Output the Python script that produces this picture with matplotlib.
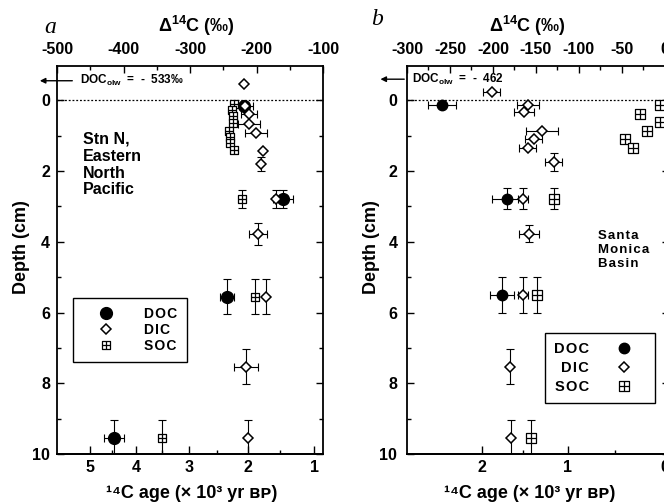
import numpy as np
import matplotlib
matplotlib.use("Agg")
import matplotlib.pyplot as plt
from matplotlib.path import Path
from matplotlib.lines import Line2D
from matplotlib.ticker import MultipleLocator, FixedLocator

plt.rcParams['font.family'] = ['Liberation Sans', 'DejaVu Sans']
plt.rcParams['font.weight'] = 'bold'
plt.rcParams['axes.unicode_minus'] = False
plt.rcParams['mathtext.fontset'] = 'custom'
plt.rcParams['mathtext.rm'] = 'Liberation Sans:bold'
plt.rcParams['mathtext.it'] = 'Liberation Sans:bold'
plt.rcParams['mathtext.bf'] = 'Liberation Sans:bold'
plt.rcParams['mathtext.default'] = 'rm'

# ---- panel a : Stn N, Eastern North Pacific (delta14C permil, depth cm)
a_doc_d = [-218.8, -160.2, -244.4, -414.3]
a_doc_z = [0.15, 2.8, 5.55, 9.55]
a_doc_xe = [13, 15, 11, 15]
a_doc_ze = [0, 0.25, 0.5, 0.5]

a_dic_d = [-218.8, -217.3, -211.3, -211.3, -200.8, -190.2, -193.2, -170.7, -197.7, -185.7, -215.8, -212.8]
a_dic_z = [-0.45, 0.15, 0.4, 0.66, 0.92, 1.44, 1.81, 2.8, 3.78, 5.55, 7.53, 9.55]
a_dic_xe = [0, 0, 12, 16, 16, 0, 0, 0, 13, 0, 18, 0]
a_dic_ze = [0, 0, 0, 0, 0, 0, 0.2, 0.25, 0.3, 0.5, 0.5, 0.5]

a_soc_d = [-233.8, -236.8, -235.3, -235.3, -241.4, -239.8, -239.8, -233.8, -221.8, -202.3, -342.1]
a_soc_z = [0.1, 0.28, 0.45, 0.65, 0.88, 1.05, 1.22, 1.4, 2.8, 5.55, 9.55]
a_soc_xe = [0] * 11
a_soc_ze = [0, 0, 0, 0, 0, 0, 0, 0, 0.25, 0.5, 0.5]

# ---- panel b : Santa Monica Basin
b_doc_d = [-259.3, -183.7, -189.5]
b_doc_z = [0.12, 2.78, 5.5]
b_doc_xe = [16, 17, 14]
b_doc_ze = [0, 0.3, 0.5]

b_dic_d = [-201.2, -159.3, -164.0, -143.0, -152.3, -159.3, -129.0, -165.1, -158.1, -165.1, -180.2, -179.1]
b_dic_z = [-0.23, 0.12, 0.34, 0.88, 1.1, 1.36, 1.75, 2.78, 3.77, 5.5, 7.53, 9.55]
b_dic_xe = [10, 13, 12, 19, 10, 10, 10, 6, 12, 6, 0, 0]
b_dic_ze = [0, 0, 0, 0, 0, 0, 0.25, 0.3, 0.25, 0.5, 0.5, 0.5]

b_soc_d = [-5.8, -29.0, -5.8, -21.0, -46.5, -37.2, -129.0, -148.8, -155.8]
b_soc_z = [0.14, 0.38, 0.62, 0.88, 1.1, 1.36, 2.78, 5.5, 9.55]
b_soc_xe = [0] * 9
b_soc_ze = [0, 0, 0, 0, 0, 0, 0.3, 0.5, 0.5]

TAU = 8.35  # kyr, delta -> age conversion


def d2age(d):
    d = np.clip(np.asarray(d, dtype=float), -990, 990)
    return -TAU * np.log(1 + d / 1000.0)


def age2d(a):
    return 1000.0 * (np.exp(-np.asarray(a, dtype=float) / TAU) - 1)


# square-with-cross marker for SOC
_v = [(-1, -1), (1, -1), (1, 1), (-1, 1), (-1, -1), (0, -1), (0, 1), (-1, 0), (1, 0)]
_c = [Path.MOVETO, Path.LINETO, Path.LINETO, Path.LINETO, Path.CLOSEPOLY,
      Path.MOVETO, Path.LINETO, Path.MOVETO, Path.LINETO]
boxplus = Path(_v, _c)

W, H = 664, 504
fig = plt.figure(figsize=(W / 100, H / 100), dpi=100)


def px_axes(l, t, r, b):
    return fig.add_axes([l / W, 1 - b / H, (r - l) / W, (b - t) / H])


def draw_series(ax, d, z, xe, ze, style, ms, zo):
    d, z, xe, ze = map(np.asarray, (d, z, xe, ze))
    m = xe > 0
    if m.any():
        ax.errorbar(d[m], z[m], xerr=xe[m], fmt='none', ecolor='k', elinewidth=0.8,
                    capsize=2.6, capthick=0.8, zorder=1)
    m = ze > 0
    if m.any():
        ax.errorbar(d[m], z[m], yerr=ze[m], fmt='none', ecolor='k', elinewidth=0.8,
                    capsize=2.8, capthick=0.8, zorder=1)
    ax.plot(d, z, ls='none', ms=ms, zorder=zo, **style)


doc_style = dict(marker='o', mfc='k', mec='k', mew=1.0)
dic_style = dict(marker='D', mfc='white', mec='k', mew=1.1)
soc_style = dict(marker=boxplus, mfc='white', mec='k', mew=0.9)


def setup(ax, xlim, major, minor, ages, age_minor, pad_y):
    ax.set_xlim(*xlim)
    ax.set_ylim(10, -0.97)
    ax.set_xticks(major)
    ax.xaxis.set_minor_locator(MultipleLocator(minor))
    ax.set_yticks(range(0, 11, 2))
    ax.yaxis.set_minor_locator(MultipleLocator(1))
    ax.tick_params(axis='x', which='both', bottom=False, top=True,
                   labelbottom=False, labeltop=True, direction='in')
    ax.tick_params(axis='x', which='major', pad=6.5, labelsize=11.5, length=5, width=1)
    ax.tick_params(axis='x', which='minor', length=3, width=1)
    ax.tick_params(axis='y', which='both', left=True, right=True, direction='in')
    ax.tick_params(axis='y', which='major', pad=pad_y, labelsize=11.5, length=5, width=1)
    ax.tick_params(axis='y', which='minor', length=3, width=1)
    for s in ax.spines.values():
        s.set_linewidth(1.3)
    ax.axhline(0, color='k', lw=0.9, ls=(0, (1.5, 1.5)), zorder=0)
    sec = ax.secondary_xaxis('bottom', functions=(d2age, age2d))
    sec.set_xticks(ages)
    sec.xaxis.set_minor_locator(FixedLocator(age_minor))
    sec.tick_params(which='both', direction='in', width=1)
    sec.tick_params(which='major', length=6, pad=4, labelsize=11.5)
    sec.tick_params(which='minor', length=3)
    sec.spines['bottom'].set_linewidth(1.3)


def spaced(s):
    return '\u200a'.join(s)


# ---------------- panel a
ax1 = px_axes(57, 66, 323, 454)
setup(ax1, (-500, -100), [-500, -400, -300, -200, -100], 50,
      [5, 4, 3, 2, 1], [4.5, 3.5, 2.5, 1.5], 5)
draw_series(ax1, a_soc_d, a_soc_z, a_soc_xe, a_soc_ze, soc_style, 6.0, 2)
draw_series(ax1, a_doc_d, a_doc_z, a_doc_xe, a_doc_ze, doc_style, 8.5, 3)
draw_series(ax1, a_dic_d, a_dic_z, a_dic_xe, a_dic_ze, dic_style, 4.6, 4)

ax1.annotate('', xy=(-0.075, 0.962), xytext=(0.068, 0.962), xycoords='axes fraction',
             arrowprops=dict(arrowstyle='-|>', color='k', lw=1, mutation_scale=8),
             annotation_clip=False)
ax1.text(0.085, 0.962, r'DOC$_{\mathrm{olw}}$  =  -  533‰', transform=ax1.transAxes,
         fontsize=8.5, va='center', ha='left')
ax1.text(0.098, 0.83, 'Stn N,\nEastern\nNorth\nPacific', transform=ax1.transAxes,
         fontsize=11.5, va='top', ha='left', linespacing=1.15)

hdl = [Line2D([], [], ls='none', ms=8.5, **doc_style),
       Line2D([], [], ls='none', ms=4.6, **dic_style),
       Line2D([], [], ls='none', ms=6.0, **soc_style)]
leg = ax1.legend(hdl, [spaced('DOC'), spaced('DIC'), spaced('SOC')], loc='upper left',
                 bbox_to_anchor=(0.06, 0.402),
                 borderaxespad=0, fontsize=10, handlelength=3.4, handletextpad=1.1,
                 labelspacing=0.15, borderpad=0.65, fancybox=False, framealpha=1,
                 edgecolor='k')
leg.get_frame().set_linewidth(1.0)

# ---------------- panel b
ax2 = px_axes(407, 66, 669, 454)
setup(ax2, (-300, 5), [-300, -250, -200, -150, -100, -50, 0], 25,
      [2, 1, 0], [1.5, 0.5], 7)
draw_series(ax2, b_soc_d, b_soc_z, b_soc_xe, b_soc_ze, soc_style, 7.0, 2)
draw_series(ax2, b_doc_d, b_doc_z, b_doc_xe, b_doc_ze, doc_style, 7.5, 3)
draw_series(ax2, b_dic_d, b_dic_z, b_dic_xe, b_dic_ze, dic_style, 4.8, 4)

ax2.annotate('', xy=(-0.112, 0.966), xytext=(0.0, 0.966), xycoords='axes fraction',
             arrowprops=dict(arrowstyle='-|>', color='k', lw=1, mutation_scale=8),
             annotation_clip=False)
ax2.text(0.02, 0.966, r'DOC$_{\mathrm{olw}}$  =  -  462', transform=ax2.transAxes,
         fontsize=8.5, va='center', ha='left')
ax2.text(0.73, 0.577, '\n'.join(spaced(w) for w in ['Santa', 'Monica', 'Basin']),
         transform=ax2.transAxes, fontsize=9.5, va='top', ha='left', linespacing=1.2)

hdl2 = [Line2D([], [], ls='none', ms=7.5, **doc_style),
        Line2D([], [], ls='none', ms=4.8, **dic_style),
        Line2D([], [], ls='none', ms=7.0, **soc_style)]
leg2 = ax2.legend(hdl2, [spaced('DOC'), spaced('DIC'), spaced('SOC')], loc='upper left',
                  bbox_to_anchor=(0.527, 0.312),
                  borderaxespad=0, fontsize=10.5, handlelength=3.0, handletextpad=0.9,
                  labelspacing=0.35, borderpad=0.6, fancybox=False, framealpha=1,
                  edgecolor='k', markerfirst=False)
leg2.get_frame().set_linewidth(1.0)

# ---------------- labels
def ftext(x, y, s, **kw):
    fig.text(x / W, 1 - y / H, s, **kw)


ftext(50, 33, 'a', family='Liberation Serif', style='italic', weight='normal',
      fontsize=17, ha='center', va='baseline')
ftext(377, 25, 'b', family='Liberation Serif', style='italic', weight='normal',
      fontsize=17, ha='center', va='baseline')
for cx in (196, 527):
    ftext(cx, 26, r'$\Delta^{14}$C (‰)', fontsize=13, ha='center', va='center')
for cx in (192, 530):
    ftext(cx, 493, '¹⁴C age (× 10³ yr ʙᴘ)', fontsize=13, ha='center', va='center')
for cx in (22, 372):
    ftext(cx, 247, 'Depth (cm)', fontsize=13, ha='center', va='center', rotation=90)

fig.savefig('out.png', dpi=100)
